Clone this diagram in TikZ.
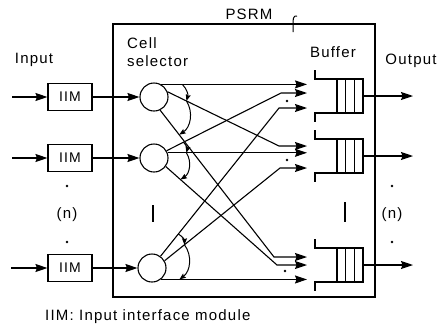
\documentclass[tikz,border=0pt]{standalone}
\usepackage{fontspec}
\setmainfont{Liberation Sans}[LetterSpace=8]
\usetikzlibrary{arrows.meta,calc}
\begin{document}
\begin{tikzpicture}[x=1pt,y=-1pt,
  every node/.style={font=\fontsize{15}{18}\selectfont, inner sep=0pt},
  ln/.style={line width=1.1pt},
  arr/.style={ln,-{Stealth[length=12pt,width=8pt,inset=1.5pt]}},
  swp/.style={line width=1pt,-{Stealth[length=6.5pt,width=5pt,inset=1pt]}},
  iim/.style={draw,line width=1.1pt,minimum width=44pt,minimum height=27pt,font=\fontsize{14}{16}\selectfont},
  sel/.style={draw,circle,line width=1.1pt,minimum size=28pt},
  dot/.style={circle,fill,inner sep=0pt,minimum size=2.6pt}
]
\useasboundingbox (0,0) rectangle (445,333);

% PSRM frame
\node[draw,ln,minimum width=262pt,minimum height=273pt] (psrm) at (244,160.5) {};
\node (lbl) at (249,14) {PSRM};
\draw[line width=1pt] (297,16) .. controls (293,15) and (293,20) .. (293,24) -- (293,32);

% labels
\node (inp) at (34,60) {Input};
\node (outp) at (411,61) {Output};
\node[anchor=west,align=left] (cs) at (127,52) {Cell\\selector};
\node (buf) at (333,52) {Buffer};
\node[anchor=west] (cap) at (45,317) {IIM: Input interface module};

% IIMs and selectors
\node[iim] (i1) at (70,97) {IIM};
\node[iim] (i2) at (70,158) {IIM};
\node[iim] (i3) at (70,268) {IIM};
\node[sel] (c1) at (154,97) {};
\node[sel] (c2) at (154,158) {};
\node[sel] (c3) at (152,268) {};
\coordinate (in1) at (12,97);
\coordinate (in2) at (12,158);
\coordinate (in3) at (11,268);
\foreach \k in {1,2,3} {
  \draw[arr] (in\k) -- (i\k);
  \draw[arr] (i\k) -- (c\k);
}

% dots and (n)
\node[dot] (dl1) at (67,186) {};
\node (nl) at (67,215) {(n)};
\node[dot] (dl2) at (67,242) {};
\node[dot] (dr1) at (392,186) {};
\node (nr) at (392,215) {(n)};
\node[dot] (dr2) at (392,242) {};
\draw[line width=1.3pt] (153,205) -- (153,222);
\draw[line width=1.3pt] (345,202) -- (345,222);

% buffers and outputs
\foreach \y/\n in {96/1,156/2,265/3} {
  \draw[ln] (315,\y-26) -- (315,\y-17) -- (363,\y-17) -- (363,\y+17) -- (315,\y+17) -- (315,\y+26);
  \draw[ln] (337,\y-17) -- (337,\y+17) (345.7,\y-17) -- (345.7,\y+17) (354.3,\y-17) -- (354.3,\y+17);
  \coordinate (q\n) at (363,\y);
  \coordinate (o\n) at (413,\y);
  \draw[arr] (q\n) -- (o\n);
}
\node[dot] (d1) at (287,101) {};
\node[dot] (d2) at (287,160) {};
\node[dot] (d3) at (285,271) {};

\coordinate (tipx) at (307,0);
% selector 1
\coordinate (h11) at (c1.60 -| tipx);
\coordinate (b12) at (279,146);
\coordinate (b13) at (274,257);
\draw[arr] (c1.60) -- (h11);
\draw[arr] (c1.21) -- (b12) -- (b12 -| tipx);
\draw[arr] (c1.-65) -- (b13) -- (b13 -| tipx);
% selector 2
\coordinate (b21) at (281,93);
\coordinate (h22) at (c2.21 -| tipx);
\coordinate (b23) at (277,265);
\draw[arr] (c2.30) -- (b21) -- (b21 -| tipx);
\draw[arr] (c2.21) -- (h22);
\draw[arr] (c2.-36) -- (b23) -- (b23 -| tipx);
% selector 3
\coordinate (b31) at (279,108);
\coordinate (b32) at (280,168);
\coordinate (h33) at (c3.-52 -| tipx);
\draw[arr] (c3.54) -- (b31) -- (b31 -| tipx);
\draw[arr] (c3.30) -- (b32) -- (b32 -| tipx);
\draw[arr] (c3.-52) -- (h33);

% sweep arrows
\coordinate (a1) at ($(c1.60)!0.145!(h11)$);
\coordinate (m1) at ($(c1.21)!0.169!(b12)$);
\coordinate (z1) at ($(c1.-65)!0.167!(b13)$);
\coordinate (a2) at ($(c2.30)!0.147!(b21)$);
\coordinate (m2) at ($(c2.21)!0.135!(h22)$);
\coordinate (z2) at ($(c2.-36)!0.132!(b23)$);
\coordinate (a3) at ($(c3.54)!0.15!(b31)$);
\coordinate (m3) at ($(c3.30)!0.172!(b32)$);
\coordinate (z3) at ($(c3.-52)!0.126!(h33)$);
\foreach \k in {1,2,3} {
  \draw[swp] (a\k) to[bend left=30] (m\k);
  \draw[swp] (m\k) to[bend left=45] (z\k);
}
\end{tikzpicture}
\end{document}
